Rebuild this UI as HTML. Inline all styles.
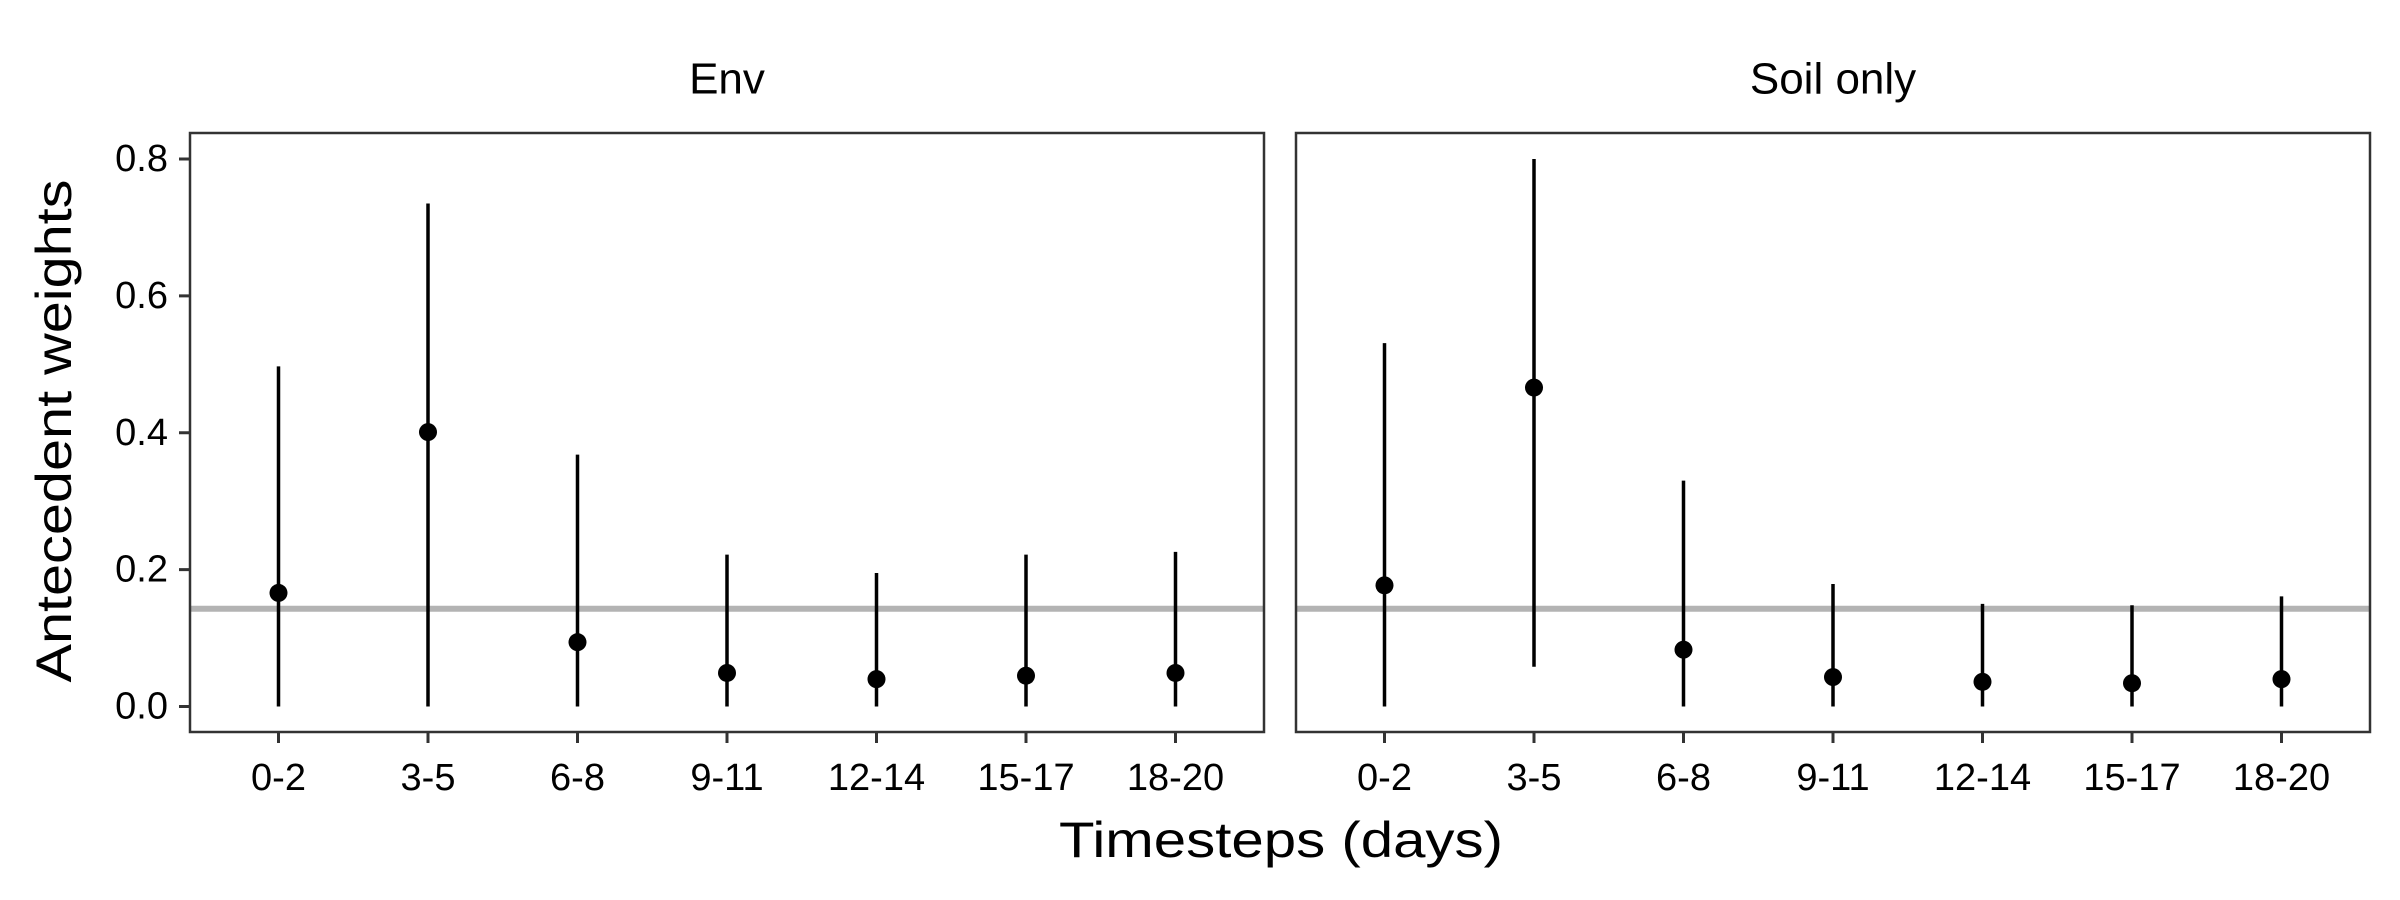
<!DOCTYPE html>
<html><head><meta charset="utf-8"><style>
html,body{margin:0;padding:0;background:#fff;}
svg{display:block;font-family:"Liberation Sans",Arial,sans-serif;}
</style></head><body>
<svg id="chart" width="2400" height="900" viewBox="0 0 2400 900" xmlns="http://www.w3.org/2000/svg">
<rect width="2400" height="900" fill="#fff"/>
<g id="plot"></g>
<text x="54" y="431" transform="rotate(-90 54 431)" text-anchor="middle" dominant-baseline="central" font-size="50" textLength="503" lengthAdjust="spacingAndGlyphs" fill="#000">Antecedent weights</text>
<text x="1281" y="857" text-anchor="middle" font-size="50" textLength="444" lengthAdjust="spacingAndGlyphs" fill="#000">Timesteps (days)</text>
</svg>
<script>
const categories = ["0-2","3-5","6-8","9-11","12-14","15-17","18-20"];
const panels = ["Env","Soil only"];
const envMid = [0.166,0.401,0.094,0.049,0.040,0.045,0.049];
const envLow = [0,0,0,0,0,0,0];
const envHigh = [0.497,0.735,0.368,0.222,0.195,0.222,0.226];
const soilMid = [0.177,0.466,0.083,0.043,0.036,0.034,0.040];
const soilLow = [0,0.058,0,0,0,0,0];
const soilHigh = [0.531,0.800,0.330,0.179,0.150,0.148,0.161];
const yTicks = [0,0.2,0.4,0.6,0.8];
const yTickLabels = ["0.0","0.2","0.4","0.6","0.8"];
const refLine = 1/7;

const NS = "http://www.w3.org/2000/svg";
const plotG = document.getElementById('plot');
function mk(tag, attrs, parent){const e=document.createElementNS(NS,tag);for(const k in attrs)e.setAttribute(k,attrs[k]);(parent||plotG).appendChild(e);return e;}
const plotTop=133, plotBottom=732;
const yScale = v => 706.5 - v*(706.5-159)/0.8;
const panelX = [190,1296], panelW = 1074;
const series = [[envMid,envLow,envHigh],[soilMid,soilLow,soilHigh]];

panels.forEach((p,pi)=>{
  const x0 = panelX[pi];
  const xScale = i => x0 + 88.5 + i*149.5;
  const pg = mk('g',{});
  
  
  const st = mk('text',{x:x0+panelW/2,y:79,'text-anchor':'middle','dominant-baseline':'central','font-size':44,fill:'#000'},pg);
  st.textContent = p;
  
  
  const hl = mk('line',{x1:x0,x2:x0+panelW,y1:yScale(refLine),y2:yScale(refLine),stroke:'#b3b3b3','stroke-width':6},pg);
  
  
  const [mid,lo,hi] = series[pi];
  categories.forEach((c,i)=>{
    const eb = mk('line',{x1:xScale(i),x2:xScale(i),y1:yScale(lo[i]),y2:yScale(hi[i]),stroke:'#000','stroke-width':3.5},pg);
    
    
    const pt = mk('circle',{cx:xScale(i),cy:yScale(mid[i]),r:9,fill:'#000'},pg);
    
    
    const tk = mk('line',{x1:xScale(i),x2:xScale(i),y1:plotBottom,y2:plotBottom+11,stroke:'#333','stroke-width':3},pg);
    
    
    const tl = mk('text',{x:xScale(i),y:778,'text-anchor':'middle','dominant-baseline':'central','font-size':38,fill:'#000'},pg);
    tl.textContent = c;
    
    
  });
  const fr = mk('rect',{x:x0,y:plotTop,width:panelW,height:plotBottom-plotTop,fill:'none',stroke:'#333','stroke-width':2.5},pg);
  
  
});
yTicks.forEach((v,i)=>{
  const tk = mk('line',{x1:179,x2:190,y1:yScale(v),y2:yScale(v),stroke:'#333','stroke-width':3});
  
  
  const tl = mk('text',{x:168,y:yScale(v),'text-anchor':'end','dominant-baseline':'central','font-size':38,fill:'#000'});
  tl.textContent = yTickLabels[i];
  
  
});
</script>
</body></html>
